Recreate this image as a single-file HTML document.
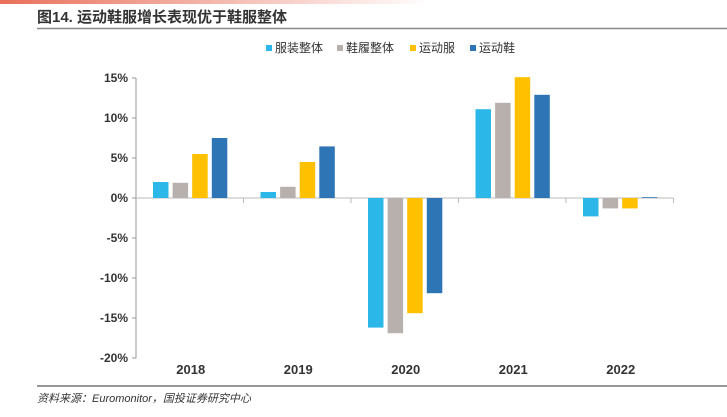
<!DOCTYPE html>
<html><head><meta charset="utf-8"><style>
body{margin:0;width:727px;height:417px;background:#fff;overflow:hidden;font-family:"Liberation Sans","Noto Sans CJK SC",sans-serif}
</style></head><body>
<svg width="727" height="417" xmlns="http://www.w3.org/2000/svg" style="position:absolute;left:0;top:0">
<defs><linearGradient id="g" x1="0" x2="1"><stop offset="0" stop-color="#e8705a"/><stop offset="1" stop-color="#fff"/></linearGradient></defs>
<rect x="0" y="0" width="430" height="4" fill="url(#g)"/>
<text x="37" y="22" font-size="15" font-weight="bold" fill="#333">图14. 运动鞋服增长表现优于鞋服整体</text>
<line x1="37" y1="28.5" x2="727" y2="28.5" stroke="#888" stroke-width="1.5"/>
<line x1="37" y1="386" x2="727" y2="386" stroke="#777" stroke-width="1.5"/>
<text x="37" y="402" font-size="11" font-style="italic" fill="#333">资料来源：Euromonitor，国投证券研究中心</text>
<g id="legend"></g>
<g id="plot"></g>
</svg>
<script>
const categories=["2018","2019","2020","2021","2022"];
const seriesNames=["服装整体","鞋履整体","运动服","运动鞋"];
const apparel=[2.0,0.75,-16.2,11.1,-2.3];
const footwear=[1.9,1.4,-16.9,11.9,-1.3];
const sportswear=[5.5,4.5,-14.4,15.1,-1.3];
const sportshoes=[7.5,6.45,-11.9,12.9,0.1];
const yTicks=[15,10,5,0,-5,-10,-15,-20];
const colors=["#2bb8e8","#b8b0ad","#ffc000","#2e75b6"];
const NS="http://www.w3.org/2000/svg";
const plot=document.getElementById('plot'),leg=document.getElementById('legend');
const x0=136,gw=107.5,y=v=>198-v*8;
function mk(tag,attrs,parent){const e=document.createElementNS(NS,tag);for(const k in attrs)e.setAttribute(k,attrs[k]);parent.appendChild(e);return e;}
let ax=mk('line',{x1:x0,y1:78,x2:x0,y2:358,stroke:'#999'},plot);


yTicks.forEach(t=>{
  const l=mk('line',{x1:x0-4,y1:y(t),x2:x0,y2:y(t),stroke:'#999'},plot);
  
  
  const tx=mk('text',{x:x0-8,y:y(t)+4,'text-anchor':'end','font-size':12,'font-weight':'bold',fill:'#333'},plot);
  tx.textContent=t+'%';
  
  
});
let xa=mk('line',{x1:x0,y1:198,x2:x0+gw*categories.length,y2:198,stroke:'#bbb'},plot);


const series=[apparel,footwear,sportswear,sportshoes];
categories.forEach((c,i)=>{
  const gx=x0+gw*i;
  const tk=mk('line',{x1:gx+gw,y1:198,x2:gx+gw,y2:203,stroke:'#bbb'},plot);
  
  
  series.forEach((s,j)=>{
    const v=s[i];
    const r=mk('rect',{x:gx+17+j*19.6,y:Math.min(y(v),198),width:15.5,height:Math.abs(y(v)-198),fill:colors[j]},plot);
    
    
  });
  const tx=mk('text',{x:gx+gw/2+1,y:374,'text-anchor':'middle','font-size':13,'font-weight':'bold',fill:'#333'},plot);
  tx.textContent=c;
  
  
});
const lx=[266,337,410,470];
seriesNames.forEach((n,j)=>{
  const r=mk('rect',{x:lx[j],y:45,width:6,height:6,fill:colors[j]},leg);
  
  
  const t=mk('text',{x:lx[j]+9,y:52,'font-size':12,fill:'#333'},leg);
  t.textContent=n;
  
  
});
</script>
</body></html>
